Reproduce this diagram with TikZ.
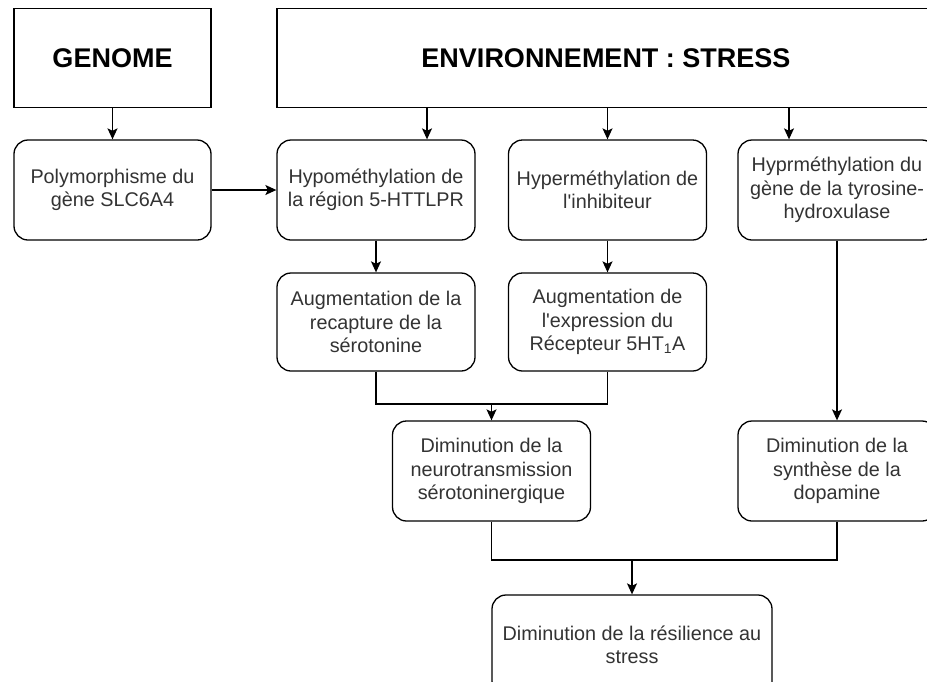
\documentclass[tikz,border=0pt]{standalone}
\usepackage{fontspec}
\setmainfont{Liberation Sans}
\usetikzlibrary{arrows.meta}
\begin{document}
\begin{tikzpicture}[x=1pt,y=-1pt,
  line width=1.3pt,
  head/.style={draw, sharp corners, minimum width=197pt, minimum height=99pt,
    font=\fontsize{27}{32}\selectfont\bfseries, text=black, inner sep=0pt},
  stepbox/.style={draw, rounded corners=14pt, minimum width=198pt, minimum height=100pt,
    align=center, font=\fontsize{19.8}{23.5}\selectfont, text=black!80, inner sep=0pt},
  arr/.style={-{Stealth[length=11pt,width=10pt,inset=2.5pt]}}]
\clip (0,0) rectangle (927,681);
\fill[white] (0,0) rectangle (927,681);

% top-level causes
\node[head] (genome) at (112.5,58) {GENOME};
\node[head, minimum width=658pt] (env) at (606,58) {ENVIRONNEMENT : STRESS};

% first row of effects
\node[stepbox, minimum width=197pt] (poly) at (112.5,190) {Polymorphisme du\\gène SLC6A4};
\node[stepbox] (hypo) at (376,190) {Hypométhylation de\\la région 5-HTTLPR};
\node[stepbox] (hyper) at (607.5,190) {Hyperméthylation de\\l\textquotesingle inhibiteur};
\node[stepbox] (tyro) at (837,190) {Hyprméthylation du\\gène de la tyrosine-\\hydroxulase};

% second row
\node[stepbox, minimum height=98pt] (recap) at (376,322) {Augmentation de la\\recapture de la\\sérotonine};
\node[stepbox, minimum height=98pt] (expr) at (607.5,322) {Augmentation de\\l\textquotesingle expression du\\Récepteur 5HT\textsubscript{1}A};

% third row
\node[stepbox] (neuro) at (491.5,471) {Diminution de la\\neurotransmission\\sérotoninergique};
\node[stepbox] (dopa) at (837,471) {Diminution de la\\synthèse de la\\dopamine};

% outcome
\node[stepbox, minimum width=280pt] (resil) at (632,645) {Diminution de la résilience au\\stress};

% junction points of the merging connectors
\coordinate (j1) at (491.5,404);
\coordinate (j2) at (632,560);

% connectors
\draw[arr] (genome) -- (poly);
\draw[arr] ([xshift=51pt]hypo.north |- env.south) -- ([xshift=51pt]hypo.north);
\draw[arr] (hyper.north |- env.south) -- (hyper.north);
\draw[arr] ([xshift=-48pt]tyro.north |- env.south) -- ([xshift=-48pt]tyro.north);
\draw[arr] (poly) -- (hypo);
\draw[arr] (hypo) -- (recap);
\draw[arr] (hyper) -- (expr);
\draw (recap.south) |- (j1) -| (expr.south);
\draw[arr] (j1) -- (neuro.north);
\draw[arr] (tyro) -- (dopa);
\draw (neuro.south) |- (j2) -| (dopa.south);
\draw[arr] (j2) -- (resil.north);
\end{tikzpicture}
\end{document}
